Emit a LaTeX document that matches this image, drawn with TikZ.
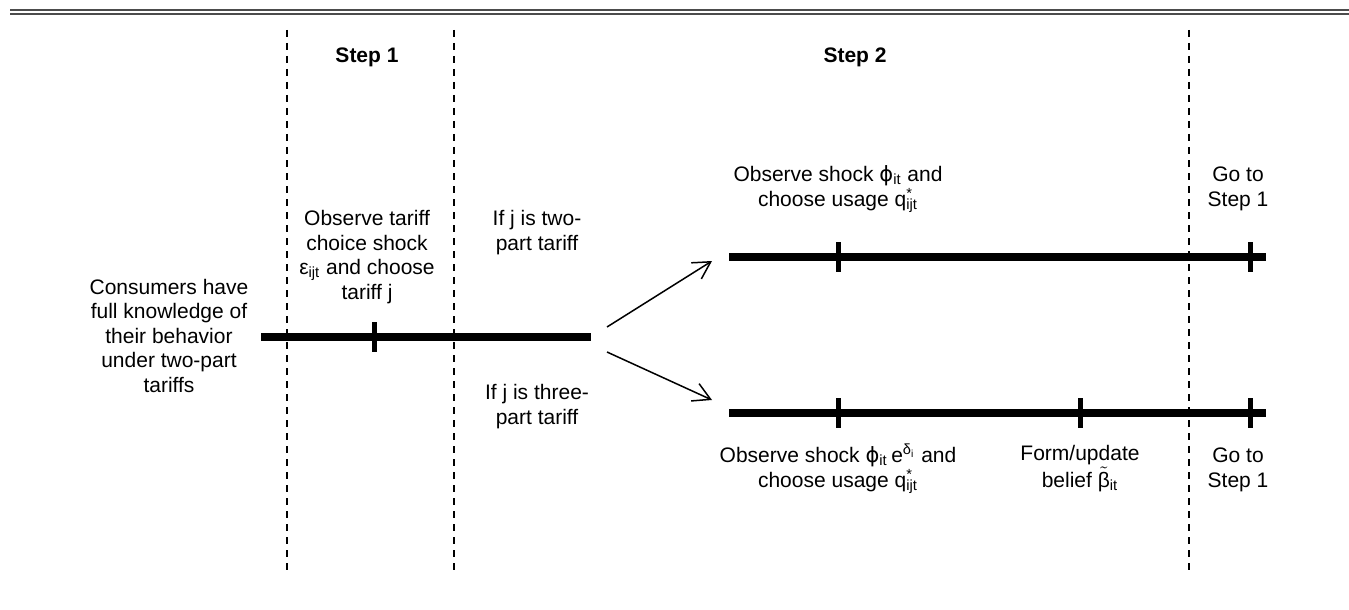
\documentclass[tikz,border=0pt]{standalone}
\usepackage{amsmath}
\usepackage{fontspec}
\setmainfont{Liberation Sans}
\newfontfamily\grk{DejaVu Sans}
\usetikzlibrary{arrows.meta}
\newcommand{\sbs}[1]{\textsubscript{#1}}
\newcommand{\qopt}{q\rlap{\textsuperscript{*}}\textsubscript{ijt}}
\newcommand{\phiv}{{\grk ϕ}}
\newcommand{\btil}{$\tilde{\text{β}}$}

\begin{document}
\begin{tikzpicture}[x=0.5pt, y=-0.5pt,
    txt/.style={align=center, inner sep=0pt, anchor=base, font=\fontsize{10.5}{12.25}\selectfont},
    steplabel/.style={inner sep=0pt, anchor=base, font=\fontsize{10.5}{12.25}\selectfont\bfseries},
    tline/.style={line width=4pt},
    tick/.style={line width=2.5pt},
    divider/.style={line width=1pt, dash pattern=on 3.5pt off 3pt},
    branch/.style={line width=0.75pt, -{Straight Barb[length=8.5pt,width=9.5pt]}}]
    \useasboundingbox (0,0) rectangle (1349,610);
    \draw[line width=1pt, black!70] (10,10) -- (1349,10) (10,14) -- (1349,14);
    \draw[divider] (287,30) -- (287,575);
    \draw[divider] (454,30) -- (454,575);
    \draw[divider] (1189,30) -- (1189,575);
    \node[steplabel] (step1) at (367,63) {Step 1};
    \node[steplabel] (step2) at (855,63) {Step 2};
    \coordinate (start) at (261,337);
    \coordinate (fork) at (591,337);
    \draw[tline] (start) -- (fork);
    \draw[tick] (374,322) -- (374,352);
    \draw[tline] (729,257) -- (1266,257);
    \foreach \x in {838,1250}
        \draw[tick] (\x,242) -- (\x,272);
    \draw[tline] (729,413) -- (1266,413);
    \foreach \x in {838,1080,1250}
        \draw[tick] (\x,398) -- (\x,428);
    \coordinate (fork1) at (607,327);
    \coordinate (fork2) at (607,352);
    \coordinate (up) at (712,261);
    \coordinate (down) at (712,400);
    \draw[branch] (fork1) -- (up);
    \draw[branch] (fork2) -- (down);
    \node[txt] (know) at (169,392) {Consumers have\\full knowledge of\\their behavior\\under two-part\\tariffs};
    \node[txt] (choose) at (367,299) {Observe tariff\\choice shock\\ε\sbs{ijt} and choose\\tariff j};
    \node[txt] (two) at (537,250) {If j is two-\\part tariff};
    \node[txt] (three) at (537,424) {If j is three-\\part tariff};
    \node[txt] (shock) at (838,206) {Observe shock \phiv\sbs{it} and\\choose usage \qopt};
    \node[txt] (goup) at (1238,206) {Go to\\Step 1};
    \node[txt] (shockd) at (838,487) {Observe shock \phiv\sbs{it}\,e\textsuperscript{δ\sbs{i}} and\\choose usage \qopt};
    \node[txt] (belief) at (1080,487) {Form/update\\belief \btil\sbs{it}};
    \node[txt] (godown) at (1238,487) {Go to\\Step 1};
\end{tikzpicture}
\end{document}
